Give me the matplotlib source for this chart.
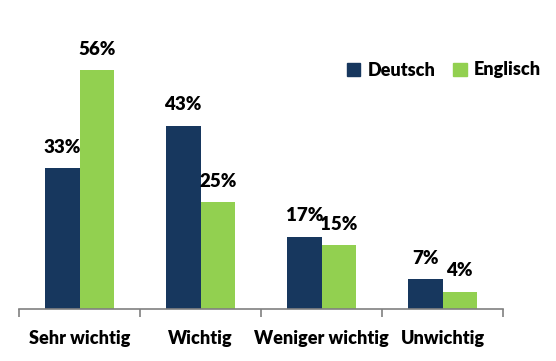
import numpy as np
import matplotlib.pyplot as plt
from matplotlib.patches import Patch

categories = ["Sehr wichtig", "Wichtig", "Weniger wichtig", "Unwichtig"]
deutsch = [33, 43, 17, 7]
englisch = [56, 25, 15, 4]
series_names = ["Deutsch", "Englisch"]
COLORS = ("#17375E", "#92D050")

plt.rcParams["font.family"] = ["Lato", "DejaVu Sans"]
plt.rcParams["font.weight"] = "heavy"

fig = plt.figure(figsize=(5.56, 3.61), dpi=100)
ax = fig.add_axes([19 / 556, 52 / 361, 484 / 556, 290 / 361])

x = np.arange(len(categories))
w = 0.285
b1 = ax.bar(x - w / 2, deutsch, width=w, color=COLORS[0])
b2 = ax.bar(x + w / 2, englisch, width=w, color=COLORS[1])

for bars, vals in ((b1, deutsch), (b2, englisch)):
    for b, v in zip(bars, vals):
        ax.annotate(f"{v}%", (b.get_x() + b.get_width() / 2, v),
                    xytext=(0, 9), textcoords="offset points",
                    ha="center", va="bottom", fontsize=13.5, fontweight="heavy")

ax.set_xlim(-0.5, len(categories) - 0.5)
ax.set_ylim(0, 68)
ax.set_yticks([])
for s in ("top", "right", "left"):
    ax.spines[s].set_visible(False)
ax.spines["bottom"].set_color("#808080")
ax.spines["bottom"].set_linewidth(1.2)

# boundary ticks between categories
ax.set_xticks(np.arange(-0.5, len(categories)), minor=False)
ax.set_xticklabels([])
ax.tick_params(axis="x", length=6, width=1.2, color="#808080")
ax.set_xticks(x, minor=True)
ax.set_xticklabels(categories, minor=True, fontsize=13, fontweight="heavy")
ax.tick_params(axis="x", which="minor", length=0, pad=15)

handles = [Patch(color=c) for c in COLORS]
fig.legend(handles, series_names, loc="center", bbox_to_anchor=(444 / 556, 1 - 70 / 361),
           ncol=2, frameon=False, handlelength=0.75, handleheight=0.75,
           handletextpad=0.4, columnspacing=1.0, prop={"weight": "heavy", "size": 13})

fig.savefig("out.png", dpi=100)
